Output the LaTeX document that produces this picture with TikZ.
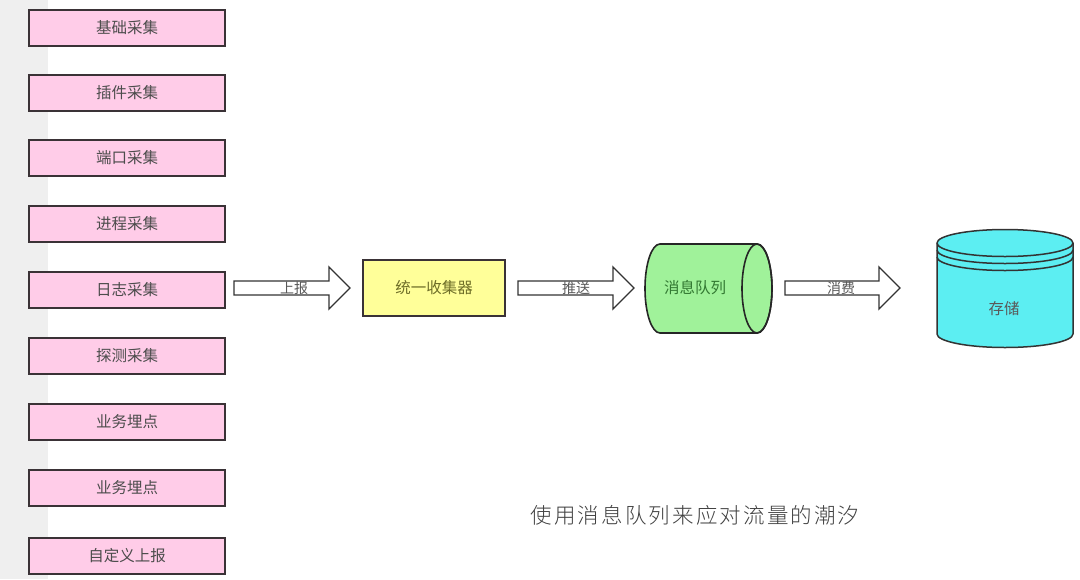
\documentclass[tikz,border=0pt]{standalone}
\usepackage{fontspec}
\newfontfamily\cjk{Noto Sans CJK SC}
\newfontfamily\cjkl{Noto Sans CJK SC Light}
\definecolor{pinkfill}{HTML}{FFCCE8}
\definecolor{edge}{HTML}{3A3236}
\definecolor{yel}{HTML}{FFFF99}
\definecolor{grn}{HTML}{A0F29A}
\definecolor{cyn}{HTML}{5CEEF2}
\definecolor{strip}{HTML}{EFEFEF}
\begin{document}
\begin{tikzpicture}[x=1pt,y=-1pt,
  srcbox/.style={draw=edge,line width=1.6pt,fill=pinkfill,minimum width=196pt,minimum height=36pt,inner sep=0pt,font=\cjk\fontsize{15.5}{15.5}\selectfont,text=black!70},
  fatarrow/.style={draw=black!80,line width=1.3pt,fill=white,line join=miter},
  arrowlabel/.style={font=\cjk\fontsize{14}{14}\selectfont,text=black!65,inner sep=0pt}]
\useasboundingbox (0,0) rectangle (1080,579);
\fill[white] (0,0) rectangle (1080,579);
\fill[strip] (0,0) rectangle (48,579);
% source boxes
\node[srcbox] (s1) at (127,28) {基础采集};
\node[srcbox] (s2) at (127,93) {插件采集};
\node[srcbox] (s3) at (127,158) {端口采集};
\node[srcbox] (s4) at (127,224) {进程采集};
\node[srcbox] (s5) at (127,290) {日志采集};
\node[srcbox] (s6) at (127,356) {探测采集};
\node[srcbox] (s7) at (127,422) {业务埋点};
\node[srcbox] (s8) at (127,488) {业务埋点};
\node[srcbox] (s9) at (127,556) {自定义上报};
% collector
\node[draw=edge,line width=1.6pt,fill=yel,minimum width=142pt,minimum height=56pt,inner sep=0pt,font=\cjk\fontsize{15.5}{15.5}\selectfont,text={rgb,255:red,110;green,110;blue,40}] (col) at (434,288) {统一收集器};
% arrow 1
\draw[fatarrow] (234,281) -- (329,281) -- (329,267) -- (350,288) -- (329,309) -- (329,295) -- (234,295) -- cycle;
\node[arrowlabel] (l1) at (294,288) {上报};
% arrow 2
\draw[fatarrow] (518,281) -- (613,281) -- (613,267) -- (634,288) -- (613,309) -- (613,295) -- (518,295) -- cycle;
\node[arrowlabel] (l2) at (576,288) {推送};
% arrow 3
\draw[fatarrow] (785,281) -- (879,281) -- (879,267) -- (900,288) -- (879,309) -- (879,295) -- (785,295) -- cycle;
\node[arrowlabel] (l3) at (841,288) {消费};
% message queue cylinder (horizontal)
\draw[draw=black!85,line width=1.6pt,fill=grn] (660,244) -- (757,244) arc[start angle=-90,end angle=90,x radius=15,y radius=44.5] -- (660,333) arc[start angle=90,end angle=270,x radius=15,y radius=44.5] -- cycle;
\draw[draw=black!85,line width=1.6pt] (757,288.5) ellipse[x radius=15,y radius=44.5];
\node[font=\cjk\fontsize{15.5}{15.5}\selectfont,text={rgb,255:red,50;green,120;blue,50},inner sep=0pt] (mq) at (695,288) {消息队列};
% storage cylinder
\draw[draw=black!80,line width=1.5pt,fill=cyn] (937,243) -- (937,334) arc[start angle=180,end angle=360,x radius=68,y radius=-13.5] -- (1073,243) arc[start angle=0,end angle=180,x radius=68,y radius=-13.5] -- cycle;
\draw[draw=black!80,line width=1.5pt] (937,243) arc[start angle=180,end angle=360,x radius=68,y radius=-13.5];
\draw[draw=black!80,line width=1.5pt] (937,250) arc[start angle=180,end angle=360,x radius=68,y radius=-13.5];
\draw[draw=black!80,line width=1.5pt] (937,257) arc[start angle=180,end angle=360,x radius=68,y radius=-13.5];
\node[font=\cjk\fontsize{15.5}{15.5}\selectfont,text=black!65,inner sep=0pt] (st) at (1004,309) {存储};
% caption
\node[font=\cjkl\fontsize{21.5}{21.5}\selectfont,text=black!75,inner sep=0pt] (cap) at (695,515) {\addfontfeature{LetterSpace=10}使用消息队列来应对流量的潮汐};
\end{tikzpicture}
\end{document}
